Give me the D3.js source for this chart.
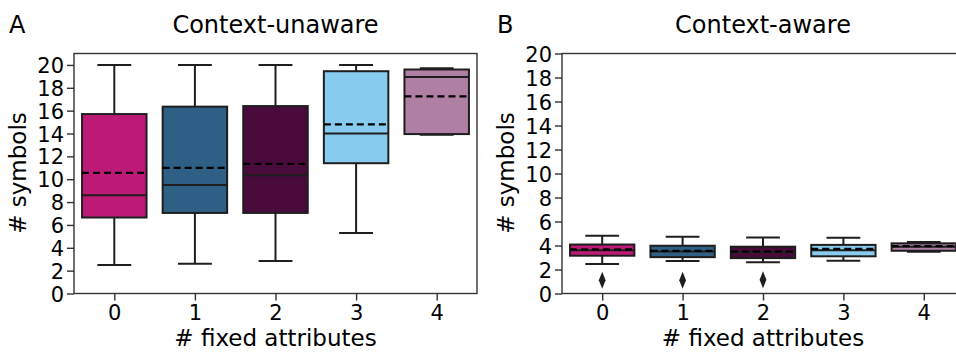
<!DOCTYPE html>
<html>
<head>
<meta charset="utf-8">
<script src="https://cdn.jsdelivr.net/npm/d3@7"></script>
<style>
  body { margin: 0; background: #fff; }
  text { font-family: "DejaVu Sans", sans-serif; fill: #000; }
</style>
</head>
<body>
<div id="chart"></div>
<script>
// data
var categories = [0, 1, 2, 3, 4];
var boxColors = ["#bd1a78", "#2e6085", "#490a3c", "#87ccee", "#b07fa4"];

// context-unaware
var unawareLow = [2.5, 2.6, 2.85, 5.3, 13.9];
var unawareQ1 = [6.65, 7.05, 7.05, 11.4, 13.95];
var unawareMedian = [8.6, 9.5, 10.35, 14.0, 18.95];
var unawareQ3 = [15.7, 16.35, 16.4, 19.45, 19.6];
var unawareHigh = [20, 20, 20, 20, 19.7];
var unawareMean = [10.55, 11.0, 11.35, 14.8, 17.25];

// context-aware
var awareLow = [2.45, 2.7, 2.6, 2.72, 3.47];
var awareQ1 = [3.15, 3.03, 2.95, 3.1, 3.56];
var awareMedian = [3.6, 3.5, 3.45, 3.6, 3.9];
var awareQ3 = [4.08, 3.98, 3.9, 4.05, 4.18];
var awareHigh = [4.82, 4.72, 4.66, 4.64, 4.3];
var awareMean = [3.68, 3.55, 3.5, 3.72, 3.95];
var awareOutliers = [[1.1], [1.1], [1.15], [], []];

var yTicks = d3.range(0, 21, 2);

var svg = d3.select("#chart").append("svg")
  .attr("width", 956)
  .attr("height", 352);

var lineColor = "#1e1e1e";
var lw = 2;

function drawPanel(opts) {
  var g = svg.append("g");

  var x = d3.scaleLinear().domain([-0.5, 4.5]).range([opts.left, opts.right]);
  var y = d3.scaleLinear().domain(opts.yDomain).range([293.5, 53.5]);
  var step = x(1) - x(0);
  var boxW = step * 0.8;
  var capW = step * 0.42;

  // boxes
  categories.forEach(function(c, i) {
    var cx = x(c);
    // whiskers
    g.append("line").attr("x1", cx).attr("x2", cx)
      .attr("y1", y(opts.q3[i])).attr("y2", y(opts.high[i]))
      .attr("stroke", lineColor).attr("stroke-width", lw);
    g.append("line").attr("x1", cx).attr("x2", cx)
      .attr("y1", y(opts.q1[i])).attr("y2", y(opts.low[i]))
      .attr("stroke", lineColor).attr("stroke-width", lw);
    // caps
    [opts.high[i], opts.low[i]].forEach(function(v) {
      g.append("line").attr("x1", cx - capW / 2).attr("x2", cx + capW / 2)
        .attr("y1", y(v)).attr("y2", y(v))
        .attr("stroke", lineColor).attr("stroke-width", lw);
    });
    // box
    g.append("rect")
      .attr("x", cx - boxW / 2)
      .attr("y", y(opts.q3[i]))
      .attr("width", boxW)
      .attr("height", y(opts.q1[i]) - y(opts.q3[i]))
      .attr("fill", boxColors[i])
      .attr("stroke", lineColor)
      .attr("stroke-width", lw);
    // median
    g.append("line").attr("x1", cx - boxW / 2).attr("x2", cx + boxW / 2)
      .attr("y1", y(opts.median[i])).attr("y2", y(opts.median[i]))
      .attr("stroke", lineColor).attr("stroke-width", lw);
    // mean
    g.append("line").attr("x1", cx - boxW / 2).attr("x2", cx + boxW / 2)
      .attr("y1", y(opts.mean[i])).attr("y2", y(opts.mean[i]))
      .attr("stroke", "#000").attr("stroke-width", 2.2)
      .attr("stroke-dasharray", "7,4");
    // outliers
    if (opts.outliers) {
      opts.outliers[i].forEach(function(v) {
        g.append("path")
          .attr("d", d3.symbol().type(d3.symbolDiamond).size(62)())
          .attr("transform", "translate(" + cx + "," + y(v) + ") scale(0.8,1.15)")
          .attr("fill", lineColor);
      });
    }
  });

  // frame
  g.append("rect")
    .attr("x", opts.left).attr("y", 53.5)
    .attr("width", opts.right - opts.left).attr("height", 240)
    .attr("fill", "none").attr("stroke", "#333").attr("stroke-width", 1.4);

  // axes
  var xAxis = g.append("g")
    .attr("transform", "translate(0,293.5)")
    .call(d3.axisBottom(x).tickValues(categories).tickFormat(d3.format("d"))
      .tickSize(7).tickPadding(4));
  var yAxis = g.append("g")
    .attr("transform", "translate(" + opts.left + ",0)")
    .call(d3.axisLeft(y).tickValues(yTicks).tickFormat(d3.format("d"))
      .tickSize(7).tickPadding(3));
  [xAxis, yAxis].forEach(function(a) {
    a.select(".domain").remove();
    a.selectAll(".tick line").attr("stroke", "#333").attr("stroke-width", 1.4);
    a.selectAll(".tick text")
      .style("font-family", "DejaVu Sans, sans-serif")
      .style("font-size", "21px")
      .attr("fill", "#000");
  });
  yAxis.selectAll(".tick text").attr("dy", "0.36em");
  xAxis.selectAll(".tick text").attr("dy", "0.72em");

  var mid = (opts.left + Math.min(opts.right, 965)) / 2;

  // titles and labels
  g.append("text").attr("x", opts.letterX).attr("y", 33)
    .style("font-size", "24px").text(opts.letter);
  g.append("text").attr("x", mid).attr("y", 33)
    .attr("text-anchor", "middle")
    .style("font-size", "24px").text(opts.title);
  g.append("text").attr("x", mid).attr("y", 346)
    .attr("text-anchor", "middle")
    .style("font-size", "23px").text("# fixed attributes");
  g.append("text")
    .attr("transform", "translate(" + opts.yLabelX + ",173) rotate(-90)")
    .attr("text-anchor", "middle")
    .style("font-size", "23px").text("# symbols");
}

drawPanel({
  left: 74, right: 477, yDomain: [0, 21],
  low: unawareLow, q1: unawareQ1, median: unawareMedian, q3: unawareQ3,
  high: unawareHigh, mean: unawareMean,
  letter: "A", letterX: 9, title: "Context-unaware", yLabelX: 26
});

drawPanel({
  left: 562, right: 964, yDomain: [0, 20],
  low: awareLow, q1: awareQ1, median: awareMedian, q3: awareQ3,
  high: awareHigh, mean: awareMean, outliers: awareOutliers,
  letter: "B", letterX: 497, title: "Context-aware", yLabelX: 514
});
</script>
</body>
</html>
